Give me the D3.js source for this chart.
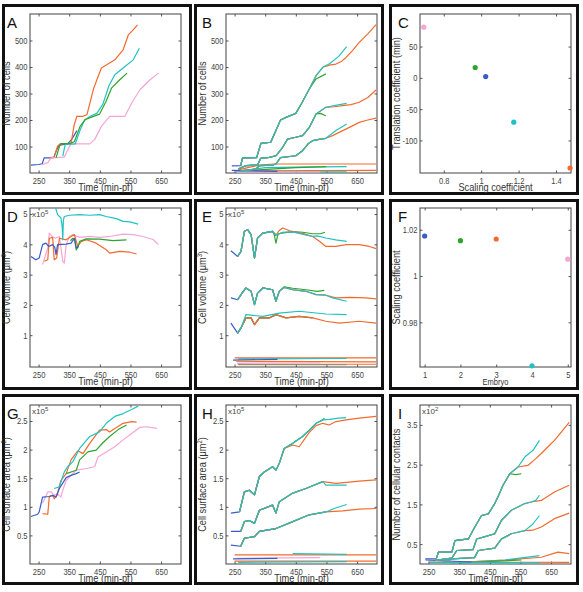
<!DOCTYPE html>
<html>
<head>
<meta charset="utf-8">
<script src="https://cdnjs.cloudflare.com/ajax/libs/d3/7.8.5/d3.min.js"></script>
<style>
  body { margin: 0; background: #fff; }
  text { font-family: "Liberation Sans", Arial, sans-serif; }
</style>
</head>
<body>
<div id="container"></div>
<script>
/* CONSTANTS AND GLOBALS */
const font = '"Liberation Sans", Arial, sans-serif';
const squeeze = 0.84; // reference uses a condensed face
const colX = [2, 194, 389], rowY = [4, 199, 394], boxW = 190, boxH = 191;
const plotLeft = [30, 226, 420], plotTop = [14, 208, 405], plotW = 151, plotH = 159;
const letterX = [7, 202, 398];

/* DATA */
// embryo order: 1 blue, 2 green, 3 orange, 4 cyan, 5 pink
const embryos = [1, 2, 3, 4, 5];
const embryoColors = ["#3a5cc8", "#2ea32e", "#f26b2d", "#22c1c1", "#f5a5d6"];
const embryoStarts = [236, 262, 255, 262, 258];
const embryoEnds = [390, 549, 712, 616, 530];
const drawOrder = [0, 4, 1, 2, 3];
const timeTicks = [250, 350, 450, 550, 650];

// C: scaling vs translation coefficient
const scalingC = [1.024, 0.968, 1.475, 1.174, 0.693];
const translationC = [2, 16.5, -144, -70.8, 81];
// F: scaling coefficient per embryo
const scalingF = [1.0173, 1.0153, 1.016, 0.9612, 1.0073];

// A: number of cells, raw time
const cellsA = [
  {emb: 0, pts: [[225,30],[250,32],[262,35],[268,57],[285,57],[300,60],[310,90],[318,105],[345,110],[360,130],[375,160]]},
  {emb: 2, pts: [[285,57],[300,58],[312,101],[320,110],[356,112],[366,180],[375,214],[395,214],[408,220],[430,320],[455,396],[482,415],[499,427],[526,465],[543,521],[559,540],[573,559]]},
  {emb: 4, pts: [[263,32],[280,39],[291,57],[334,60],[346,90],[356,110],[417,110],[433,126],[455,176],[482,214],[532,214],[554,264],[581,314],[614,352],[641,377]]},
  {emb: 3, pts: [[329,64],[337,108],[370,110],[385,160],[400,200],[420,215],[440,225],[460,260],[480,330],[499,371],[532,402],[559,427],[579,471]]},
  {emb: 1, pts: [[307,57],[318,100],[323,111],[350,111],[367,118],[385,175],[403,202],[425,212],[449,222],[470,270],[488,320],[515,352],[539,377]]}
];

// B: number of cells per lineage, aligned time
const cellsB = [
  {core: [[241,27],[270,28],[276,57],[322,58],[336,112],[368,116],[385,160],[400,200],[418,210],[450,225],[470,265],[494,317],[516,367],[538,399]],
   tails: {2: [[560,407],[581,411],[600,422],[614,436],[635,462],[657,493],[685,525],[712,560]],
           3: [[560,412],[590,440],[616,477]],
           1: [[516,355],[548,374]]}},
  {core: [[262,15],[287,28],[325,30],[335,55],[363,59],[385,65],[407,97],[423,128],[450,135],[472,141],[494,172],[516,223],[548,248]],
   tails: {2: [[575,250],[603,254],[630,258],[657,267],[685,285],[712,313]],
           3: [[580,255],[616,263]],
           1: [[530,225],[548,216]]}},
  {core: [[270,8],[320,15],[331,28],[375,30],[385,34],[400,58],[450,65],[472,84],[490,110],[505,122],[530,128],[548,131]],
   tails: {2: [[570,141],[603,160],[630,175],[657,191],[685,200],[712,207]],
           3: [[581,160],[616,185]]}}
];
const cellsBLow = [
  {emb: 2, pts: [[262,12],[300,22],[331,30],[380,34],[712,34]]},
  {emb: 3, pts: [[262,6],[350,20],[450,22],[616,24]]},
  {emb: 1, pts: [[270,8],[450,20],[549,24]]},
  {emb: 2, pts: [[255,8],[712,10]]},
  {emb: 3, pts: [[255,4],[616,4]]},
  {emb: 4, pts: [[258,3],[530,4]]},
  {emb: 0, pts: [[241,10],[390,6]]}
];

// D: cell volume (x10^5 um3), raw time
const volumeD = [
  {emb: 4, pts: [[263,3.33],[280,3.88],[285,4.37],[294,4.26],[305,4.2],[318,4.26],[329,3.44],[334,3.38],[340,3.99],[351,4.26],[362,4.32],[384,4.23],[417,4.26],[449,4.23],[482,4.26],[526,4.34],[559,4.32],[592,4.26],[625,4.15],[641,3.99]]},
  {emb: 2, pts: [[269,3.44],[280,3.49],[285,4.2],[296,4.23],[301,3.49],[309,3.55],[318,4.2],[340,4.15],[356,4.26],[367,4.32],[378,3.93],[389,4.1],[406,4.15],[438,4.04],[471,3.82],[482,3.71],[515,3.77],[548,3.74],[570,3.68]]},
  {emb: 3, pts: [[300,5.4],[312,4.98],[323,4.87],[327,4.6],[329,4.15],[331,4.8],[334,4.92],[351,4.96],[384,4.98],[417,4.96],[449,4.98],[471,4.92],[504,4.85],[526,4.76],[548,4.74],[575,4.67]]},
  {emb: 1, pts: [[354,4.12],[362,4.2],[368,4.15],[373,3.82],[378,3.9],[384,4.1],[406,4.18],[449,4.17],[493,4.12],[537,4.15]]},
  {emb: 0, pts: [[225,3.6],[241,3.49],[252,3.55],[263,3.99],[274,4.04],[283,3.93],[296,3.99],[303,3.9],[307,3.66],[312,3.99],[340,4.01],[356,4.04],[367,4.2],[373,3.88],[381,3.93]]}
];

// E: cell volume per lineage, aligned time
const volumeE = [
  {core: [[238,3.79],[260,3.6],[271,3.77],[282,4.43],[293,4.48],[304,4.32],[315,3.55],[325,4.21],[342,4.37],[374,4.43],[385,4.3],[407,4.4],[440,4.41],[472,4.34],[505,4.26]],
   tails: {2: [[395,4.45],[407,4.54],[430,4.45],[472,4.36],[505,4.26],[527,4.1],[548,3.93],[581,3.93],[614,3.99],[657,3.99],[690,3.93],[712,3.86]],
           3: [[520,4.28],[548,4.21],[580,4.15],[616,4.1]],
           1: [[380,4.3],[385,4.04],[392,4.35],[440,4.42],[472,4.4],[505,4.35],[530,4.35],[545,4.4]]}},
  {core: [[238,2.23],[260,2.17],[271,2.34],[287,2.56],[304,2.45],[315,2.01],[325,2.39],[342,2.56],[374,2.5],[385,2.12],[396,2.45],[412,2.58],[440,2.5],[483,2.45],[516,2.34],[548,2.32]],
   tails: {2: [[581,2.23],[625,2.25],[679,2.23],[712,2.2]],
           3: [[570,2.23],[616,2.12]],
           1: [[412,2.6],[440,2.55],[483,2.5],[520,2.45],[543,2.48]]}},
  {core: [[238,1.4],[260,1.07],[271,1.24],[287,1.57],[304,1.57],[315,1.35],[331,1.57],[363,1.57],[385,1.68],[418,1.57],[461,1.62],[505,1.57]],
   tails: {2: [[548,1.46],[592,1.4],[657,1.46],[712,1.4]],
           3: [[287,1.68],[342,1.62],[396,1.73],[461,1.79],[548,1.7],[616,1.68]]}}
];
const volumeELow = [
  {emb: 2, pts: [[250,0.25],[712,0.25]]},
  {emb: 3, pts: [[262,0.22],[616,0.23]]},
  {emb: 0, pts: [[245,0.18],[390,0.2]]},
  {emb: 2, pts: [[255,0.14],[712,0.12]]},
  {emb: 4, pts: [[258,0.08],[530,0.09]]},
  {emb: 3, pts: [[262,0.03],[616,0.03]]},
  {emb: 2, pts: [[260,0.04],[712,0.04]]}
];

// G: cell surface area (x10^5 um2), raw time
const surfaceG = [
  {emb: 4, pts: [[263,1.06],[280,1.26],[291,1.26],[301,1.2],[312,1.23],[323,1.17],[329,1.29],[340,1.46],[356,1.55],[373,1.64],[406,1.67],[433,1.7],[444,1.87],[471,1.96],[499,2.05],[526,2.17],[554,2.28],[581,2.39],[603,2.4],[636,2.37]]},
  {emb: 2, pts: [[263,0.88],[280,0.87],[285,1.18],[296,1.2],[301,1.14],[310,1.2],[323,1.46],[340,1.58],[356,1.82],[378,1.98],[395,1.93],[417,2.11],[449,2.34],[471,2.35],[482,2.31],[499,2.37],[526,2.46],[554,2.49],[570,2.48]]},
  {emb: 3, pts: [[301,1.32],[318,1.35],[334,1.61],[345,1.7],[362,1.79],[384,2.02],[417,2.23],[449,2.31],[471,2.46],[499,2.58],[526,2.63],[554,2.7],[575,2.76]]},
  {emb: 1, pts: [[340,1.58],[373,1.64],[384,1.82],[411,1.96],[438,1.99],[460,2.12],[482,2.23],[510,2.35],[537,2.43]]},
  {emb: 0, pts: [[225,0.83],[247,0.87],[252,0.91],[263,1.17],[285,1.18],[296,1.2],[307,1.17],[318,1.32],[340,1.51],[356,1.55],[373,1.58],[384,1.61]]}
];

// H: cell surface area per lineage, aligned time
const surfaceH = [
  {core: [[238,0.89],[266,0.91],[282,1.26],[298,1.29],[315,1.21],[331,1.53],[347,1.61],[374,1.7],[385,1.64],[396,1.76],[412,2.02],[440,2.11],[472,2.23],[494,2.34],[516,2.46],[538,2.52]],
   tails: {2: [[440,2.08],[461,2.05],[494,2.3],[516,2.42],[538,2.46],[559,2.43],[581,2.49],[614,2.52],[657,2.55],[712,2.58]],
           3: [[560,2.53],[590,2.55],[614,2.56]],
           1: [[543,2.55]]}},
  {core: [[238,0.57],[270,0.57],[282,0.74],[298,0.76],[315,0.71],[331,0.94],[374,1.03],[385,0.89],[396,1.09],[440,1.24],[483,1.32],[538,1.44]],
   tails: {2: [[581,1.41],[657,1.45],[712,1.47]],
           3: [[548,1.38],[616,1.38]]}},
  {core: [[238,0.33],[270,0.31],[282,0.45],[315,0.48],[331,0.57],[385,0.62],[440,0.74],[494,0.86],[548,0.91]],
   tails: {2: [[603,0.93],[657,0.96],[712,0.97]],
           3: [[580,0.98],[616,1.04]]}}
];
const surfaceHLow = [
  {emb: 2, pts: [[250,0.16],[712,0.16]]},
  {emb: 3, pts: [[440,0.18],[616,0.17]]},
  {emb: 4, pts: [[258,0.1],[530,0.11]]},
  {emb: 0, pts: [[245,0.09],[390,0.1]]},
  {emb: 2, pts: [[250,0.05],[712,0.05]]},
  {emb: 3, pts: [[262,0.03],[616,0.04]]}
];

// I: number of cellular contacts (x10^2), aligned time
const contactsI = [
  {core: [[239,0.13],[275,0.13],[282,0.3],[326,0.3],[336,0.59],[380,0.63],[401,0.93],[423,1.22],[445,1.26],[466,1.52],[480,1.75],[493,1.98],[515,2.27],[542,2.44]],
   tails: {2: [[574,2.48],[600,2.65],[618,2.78],[640,2.95],[661,3.11],[690,3.38],[709,3.56]],
           3: [[564,2.69],[591,2.86],[612,3.11]],
           1: [[535,2.25],[553,2.27]]}},
  {core: [[272,0.09],[326,0.15],[342,0.34],[395,0.36],[407,0.63],[440,0.7],[466,0.76],[488,1.1],[520,1.35],[564,1.52],[585,1.56]],
   tails: {2: [[618,1.6],[661,1.81],[709,1.98]],
           3: [[600,1.6],[612,1.73]]}},
  {core: [[300,0.05],[326,0.13],[400,0.16],[412,0.34],[466,0.4],[488,0.63],[520,0.76],[564,0.84]],
   tails: {2: [[590,0.85],[618,0.93],[661,1.14],[709,1.28]],
           3: [[590,1.0],[612,1.22]]}}
];
const contactsILow = [
  {emb: 2, pts: [[320,0.03],[400,0.06],[500,0.1],[618,0.17],[672,0.3],[709,0.26]]},
  {emb: 3, pts: [[320,0.03],[500,0.1],[612,0.21]]},
  {emb: 1, pts: [[350,0.03],[553,0.1]]},
  {emb: 2, pts: [[250,0.05],[709,0.04]]},
  {emb: 3, pts: [[250,0.04],[612,0.03]]},
  {emb: 0, pts: [[240,0.1],[390,0.05]]}
];

/* HELPERS */
const svg = d3.select("#container").append("svg")
  .attr("width", 583).attr("height", 592);

// embryos overlap inside a lineage bundle: shared core, own tail after divergence
function bundleSeries(bundles) {
  const out = [];
  bundles.forEach(b => {
    drawOrder.forEach(e => {
      const tail = b.tails[e] || [];
      const cut = tail.length ? tail[0][0] : Infinity;
      const pts = b.core
        .filter(d => d[0] >= embryoStarts[e] - 12 && d[0] <= embryoEnds[e] && d[0] < cut)
        .concat(tail);
      out.push({emb: e, pts});
    });
  });
  return out;
}

function makePanel(p) {
  const x0 = plotLeft[p.col], y0 = plotTop[p.row];
  svg.append("rect")
    .attr("x", colX[p.col] + 1.5).attr("y", rowY[p.row] + 1.5)
    .attr("width", boxW - 3).attr("height", boxH - 3)
    .attr("fill", "none").attr("stroke", "#111").attr("stroke-width", 3);
  svg.append("text")
    .attr("x", letterX[p.col]).attr("y", y0 + 14)
    .attr("font-size", 15).attr("fill", "#111")
    .text(p.letter);

  const g = svg.append("g").attr("transform", `translate(${x0},${y0})`);
  const x = d3.scaleLinear().domain(p.xDomain).range([0, plotW]);
  const y = d3.scaleLinear().domain(p.yDomain).range([plotH, 0]);

  g.append("clipPath").attr("id", "clip" + p.letter)
    .append("rect").attr("width", plotW).attr("height", plotH);

  g.append("g").attr("transform", `translate(0,${plotH})`)
    .call(d3.axisBottom(x).tickValues(p.xTicks).tickFormat(p.xFormat).tickSize(-2.5).tickPadding(4.5));
  g.append("g")
    .call(d3.axisLeft(y).tickValues(p.yTicks).tickFormat(p.yFormat).tickSize(-2.5).tickPadding(3));
  g.append("g")
    .call(d3.axisTop(x).tickValues(p.xTicks).tickFormat("").tickSize(-2.5));
  g.append("g").attr("transform", `translate(${plotW},0)`)
    .call(d3.axisRight(y).tickValues(p.yTicks).tickFormat("").tickSize(-2.5));
  g.selectAll(".domain").remove();
  g.selectAll("g").attr("font-family", font);
  g.selectAll(".tick line").attr("stroke", "#555");
  g.selectAll(".tick text").attr("font-size", 9).attr("fill", "#444")
    .attr("transform", `scale(${squeeze},1)`);

  g.append("rect").attr("width", plotW).attr("height", plotH)
    .attr("fill", "none").attr("stroke", "#444").attr("stroke-width", 1);

  // axis titles
  g.append("text")
    .attr("transform", `translate(${plotW / 2},${plotH + 17.5}) scale(${squeeze},1)`)
    .attr("text-anchor", "middle").attr("font-size", p.xLabelSize || 11).attr("fill", "#333")
    .text(p.xLabel);
  const yl = g.append("text")
    .attr("transform", `translate(-20,${plotH / 2}) rotate(-90) scale(${squeeze},1)`)
    .attr("text-anchor", "middle").attr("font-size", 11).attr("fill", "#333")
    .text(p.yLabel);
  if (p.yUnit) {
    yl.append("tspan").text(" (\u03bcm");
    yl.append("tspan").attr("dy", -4).attr("font-size", 7).text(p.yUnit);
    yl.append("tspan").attr("dy", 4).text(")");
  }
  if (p.exponent) {
    const ex = g.append("text").attr("x", 2).attr("y", 9)
      .attr("font-size", 8).attr("fill", "#444").text("x10");
    ex.append("tspan").attr("dy", -3).attr("font-size", 6).text(p.exponent);
  }
  return {g, x, y, clip: "url(#clip" + p.letter + ")"};
}

function drawLines(panel, series) {
  const line = d3.line().x(d => panel.x(d[0])).y(d => panel.y(d[1]));
  panel.g.append("g").attr("clip-path", panel.clip)
    .selectAll("path")
    .data(series)
    .join("path")
    .attr("d", d => line(d.pts))
    .attr("fill", "none")
    .attr("stroke", d => embryoColors[d.emb])
    .attr("stroke-width", 1.2)
    .attr("stroke-linejoin", "round");
}

function drawDots(panel, xs, ys) {
  panel.g.append("g")
    .selectAll("circle")
    .data(embryos.map((e, i) => ({emb: i, x: xs[i], y: ys[i]})))
    .join("circle")
    .attr("cx", d => panel.x(d.x))
    .attr("cy", d => panel.y(d.y))
    .attr("r", 2.6)
    .attr("fill", d => embryoColors[d.emb]);
}

/* PANELS */
const timeDomain = [222, 715];
const intFmt = d3.format("d");
const numFmt = d => String(d);

const A = makePanel({letter: "A", col: 0, row: 0, xDomain: timeDomain, yDomain: [0, 600],
  xTicks: timeTicks, yTicks: [100, 200, 300, 400, 500], xFormat: intFmt, yFormat: intFmt,
  xLabel: "Time (min-pf)", yLabel: "Number of cells"});
drawLines(A, cellsA);

const B = makePanel({letter: "B", col: 1, row: 0, xDomain: timeDomain, yDomain: [0, 600],
  xTicks: timeTicks, yTicks: [100, 200, 300, 400, 500], xFormat: intFmt, yFormat: intFmt,
  xLabel: "Time (min-pf)", yLabel: "Number of cells"});
drawLines(B, cellsBLow.concat(bundleSeries(cellsB)));

const C = makePanel({letter: "C", col: 2, row: 0, xDomain: [0.673, 1.48], yDomain: [-152, 102],
  xTicks: [0.8, 1, 1.2, 1.4], yTicks: [-100, -50, 0, 50], xFormat: numFmt, yFormat: numFmt,
  xLabel: "Scaling coefficient", yLabel: "Translation coefficient (min)"});
drawDots(C, scalingC, translationC);

const D = makePanel({letter: "D", col: 0, row: 1, xDomain: timeDomain, yDomain: [-0.05, 5.2],
  xTicks: timeTicks, yTicks: [1, 2, 3, 4, 5], xFormat: intFmt, yFormat: intFmt,
  xLabel: "Time (min-pf)", yLabel: "Cell volume", yUnit: "3", exponent: "5"});
drawLines(D, volumeD);

const E = makePanel({letter: "E", col: 1, row: 1, xDomain: timeDomain, yDomain: [-0.05, 5.2],
  xTicks: timeTicks, yTicks: [1, 2, 3, 4, 5], xFormat: intFmt, yFormat: intFmt,
  xLabel: "Time (min-pf)", yLabel: "Cell volume", yUnit: "3", exponent: "5"});
drawLines(E, volumeELow.concat(bundleSeries(volumeE)));

const F = makePanel({letter: "F", col: 2, row: 1, xDomain: [0.87, 5.09], yDomain: [0.9607, 1.0294],
  xTicks: [1, 2, 3, 4, 5], yTicks: [0.98, 1, 1.02], xFormat: intFmt, yFormat: numFmt,
  xLabel: "Embryo", xLabelSize: 9, yLabel: "Scaling coefficient"});
drawDots(F, embryos, scalingF);

const G = makePanel({letter: "G", col: 0, row: 2, xDomain: timeDomain, yDomain: [0, 2.78],
  xTicks: timeTicks, yTicks: [0.5, 1, 1.5, 2, 2.5], xFormat: intFmt, yFormat: numFmt,
  xLabel: "Time (min-pf)", yLabel: "Cell surface area", yUnit: "2", exponent: "5"});
drawLines(G, surfaceG);

const H = makePanel({letter: "H", col: 1, row: 2, xDomain: timeDomain, yDomain: [0, 2.78],
  xTicks: timeTicks, yTicks: [0.5, 1, 1.5, 2, 2.5], xFormat: intFmt, yFormat: numFmt,
  xLabel: "Time (min-pf)", yLabel: "Cell surface area", yUnit: "2", exponent: "5"});
drawLines(H, surfaceHLow.concat(bundleSeries(surfaceH)));

const I = makePanel({letter: "I", col: 2, row: 2, xDomain: timeDomain, yDomain: [0, 4.0],
  xTicks: timeTicks, yTicks: [0.5, 1.5, 2.5, 3.5], xFormat: intFmt, yFormat: numFmt,
  xLabel: "Time (min-pf)", yLabel: "Number of cellular contacts", exponent: "2"});
drawLines(I, contactsILow.concat(bundleSeries(contactsI)));
</script>
</body>
</html>
